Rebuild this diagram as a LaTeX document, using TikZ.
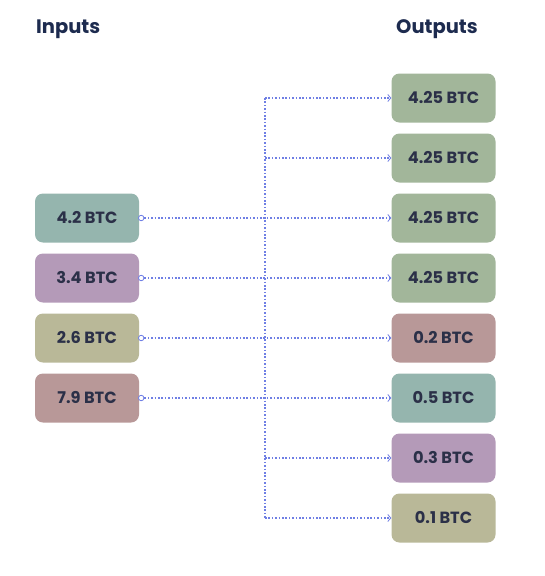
\documentclass[tikz,border=0pt]{standalone}
\usepackage{fontspec}
\setmainfont{Poppins}
\usetikzlibrary{arrows.meta}
\definecolor{cteal}{HTML}{95B5AE}
\definecolor{cpurple}{HTML}{B49AB8}
\definecolor{ckhaki}{HTML}{B9B898}
\definecolor{crose}{HTML}{B89898}
\definecolor{cgreen}{HTML}{A2B69A}
\definecolor{ctext}{HTML}{2B3048}
\definecolor{ctitle}{HTML}{1D2B4F}
\definecolor{cline}{HTML}{6F7FE4}
\tikzset{
  coin/.style={rounded corners=8pt, minimum width=104pt, minimum height=49pt,
    inner sep=0pt, text=ctext, font=\fontsize{16.2}{18}\selectfont\bfseries},
  title/.style={text=ctitle, font=\fontsize{19.5}{22}\selectfont\bfseries, inner sep=0pt},
  flow/.style={draw=cline, line width=1.1pt, dash pattern=on 1.6pt off 1.8pt},
  flowarrow/.style={flow, -{Straight Barb[length=3pt,width=7pt,line width=0.8pt]}},
  port/.style={circle, draw=cline, fill=white, line width=0.8pt, minimum size=5.5pt, inner sep=0pt}
}
\begin{document}
\begin{tikzpicture}[x=1pt,y=-1pt]
\useasboundingbox (0,0) rectangle (544,576);
\node[title, anchor=base west] (tin) at (36,33) {Inputs};
\node[title, anchor=base west] (tout) at (396,33) {Outputs};
% inputs
\node[coin, fill=cteal] (i1) at (87,218) {4.2 BTC};
\node[coin, fill=cpurple] (i2) at (87,278) {3.4 BTC};
\node[coin, fill=ckhaki] (i3) at (87,338) {2.6 BTC};
\node[coin, fill=crose] (i4) at (87,398) {7.9 BTC};
% outputs
\node[coin, fill=cgreen] (o1) at (443.5,98) {4.25 BTC};
\node[coin, fill=cgreen] (o2) at (443.5,158) {4.25 BTC};
\node[coin, fill=cgreen] (o3) at (443.5,218) {4.25 BTC};
\node[coin, fill=cgreen] (o4) at (443.5,278) {4.25 BTC};
\node[coin, fill=crose] (o5) at (443.5,338) {0.2 BTC};
\node[coin, fill=cteal] (o6) at (443.5,398) {0.5 BTC};
\node[coin, fill=cpurple] (o7) at (443.5,458) {0.3 BTC};
\node[coin, fill=ckhaki] (o8) at (443.5,518) {0.1 BTC};
% bus
\coordinate (btop) at (265,98);
\coordinate (bbot) at (265,518);
\draw[flow] (btop) -- (bbot);
\draw[flowarrow] (btop) -- (o1.west);
\draw[flowarrow] (265,158) -- (o2.west);
\draw[flowarrow] (265,458) -- (o7.west);
\draw[flowarrow] (bbot) -- (o8.west);
% input lines
\foreach \k/\o in {1/3,2/4,3/5,4/6}{
  \node[port] (p\k) at ([xshift=2pt]i\k.east) {};
  \draw[flowarrow] (p\k.east) -- (o\o.west);
}
\end{tikzpicture}
\end{document}
